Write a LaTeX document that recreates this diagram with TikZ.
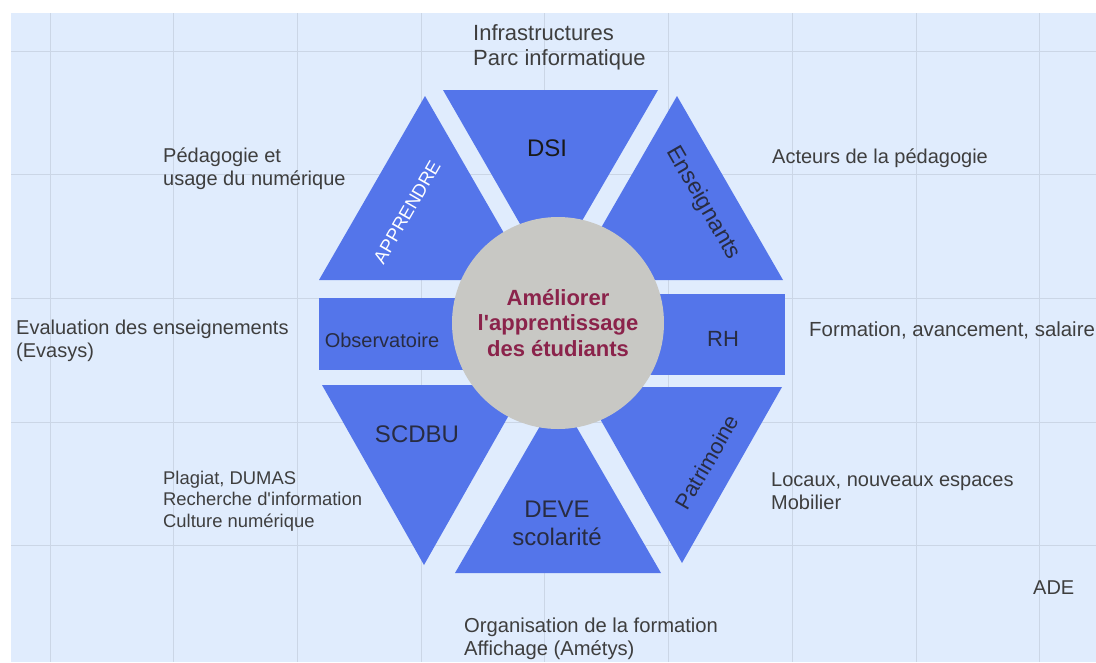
\documentclass[tikz,border=0pt]{standalone}
\usepackage{fontspec}
\setmainfont{Liberation Sans}
\usetikzlibrary{calc}

\definecolor{bgblue}{RGB}{224,236,253}
\definecolor{gridline}{RGB}{203,214,230}
\definecolor{pieceblue}{RGB}{84,117,234}
\definecolor{hubgray}{RGB}{200,200,196}
\definecolor{hubtext}{RGB}{139,35,75}
\definecolor{labeltext}{RGB}{62,62,62}
\definecolor{piecetext}{RGB}{40,44,66}

\begin{document}
\begin{tikzpicture}[x=1pt,y=-1pt,
piece/.style={fill=pieceblue},
outer/.style={anchor=west,align=left,inner sep=0pt,text=labeltext,
  font=\fontsize{20}{23}\selectfont},
inside/.style={align=center,inner sep=0pt,text=piecetext,
  font=\fontsize{24}{28}\selectfont}]

  \useasboundingbox (0,0) rectangle (1096,662);
  \fill[white] (0,0) rectangle (1096,662);
  \fill[bgblue] (11,13) rectangle (1096,662);

  % grid
  \draw[gridline,line width=0.8pt]
    (50,13) -- (50,662) (173.7,13) -- (173.7,662) (297.4,13) -- (297.4,662)
    (421.1,13) -- (421.1,662) (544.8,13) -- (544.8,662) (668.5,13) -- (668.5,662)
    (792.2,13) -- (792.2,662) (915.9,13) -- (915.9,662) (1039.6,13) -- (1039.6,662);
  \draw[gridline,line width=0.8pt]
    (11,51) -- (1096,51) (11,174.7) -- (1096,174.7) (11,298.4) -- (1096,298.4)
    (11,422.1) -- (1096,422.1) (11,545.8) -- (1096,545.8);

  % top row
  \coordinate (apA) at (425,96);
  \coordinate (apB) at (319,280);
  \coordinate (apC) at (531,280);
  \coordinate (dsA) at (443,90);
  \coordinate (dsB) at (658,90);
  \coordinate (dsC) at (550,276);
  \coordinate (enA) at (677,96);
  \coordinate (enB) at (571,280);
  \coordinate (enC) at (783,280);
  % bottom row
  \coordinate (scA) at (322,385);
  \coordinate (scB) at (526,385);
  \coordinate (scC) at (424,565);
  \coordinate (deA) at (558,395);
  \coordinate (deB) at (455,573);
  \coordinate (deC) at (661,573);
  \coordinate (paA) at (582,387);
  \coordinate (paB) at (782,387);
  \coordinate (paC) at (682,563);

  \fill[piece] (apA) -- (apB) -- (apC) -- cycle;
  \fill[piece] (dsA) -- (dsB) -- (dsC) -- cycle;
  \fill[piece] (enA) -- (enB) -- (enC) -- cycle;
  \fill[piece] (319,298) rectangle (520,370);
  \fill[piece] (600,294) rectangle (785,375);
  \fill[piece] (scA) -- (scB) -- (scC) -- cycle;
  \fill[piece] (deA) -- (deB) -- (deC) -- cycle;
  \fill[piece] (paA) -- (paB) -- (paC) -- cycle;

  % centre
  \node[circle,fill=hubgray,minimum size=212pt,inner sep=0pt,align=center,
    text=hubtext,font=\bfseries\fontsize{22}{25.5}\selectfont] (hub) at (558,323)
    {Améliorer\\l\textquotesingle apprentissage\\des étudiants};

  % pieces
  \node[inside,text=black!90] (dsi) at (547,148) {DSI};
  \node[inside,text=white,rotate=60,font=\fontsize{18.5}{22}\selectfont]
    (apprendre) at (407,212) {APPRENDRE};
  \node[inside,rotate=-60,font=\fontsize{23}{26}\selectfont]
    (enseignants) at (703,203) {Enseignants};
  \node[inside,font=\fontsize{20}{23}\selectfont] (observatoire) at (382,340) {Observatoire};
  \node[inside,font=\fontsize{22}{25}\selectfont] (rh) at (723,339) {RH};
  \node[inside] (scdbu) at (417,434) {SCDBU};
  \node[inside] (deve) at (557,523) {DEVE\\scolarité};
  \node[inside,rotate=60,font=\fontsize{22}{25}\selectfont]
    (patrimoine) at (707,462) {Patrimoine};

  % outer labels
  \node[outer,font=\fontsize{22}{25}\selectfont] (infra) at (473,47)
    {Infrastructures\\Parc informatique};
  \node[outer] (peda) at (163,169) {Pédagogie et\\usage du numérique};
  \node[outer] (acteurs) at (772,158) {Acteurs de la pédagogie};
  \node[outer] (evaluation) at (16,341) {Evaluation des enseignements\\(Evasys)};
  \node[outer,font=\fontsize{20.4}{23}\selectfont] (formation) at (809,330)
    {Formation, avancement, salaire};
  \node[outer,font=\fontsize{18.4}{21.6}\selectfont] (plagiat) at (163,501)
    {Plagiat, DUMAS\\Recherche d\textquotesingle information\\Culture numérique};
  \node[outer] (locaux) at (771,491) {Locaux, nouveaux espaces\\Mobilier};
  \node[outer] (ade) at (1033,588) {ADE};
  \node[outer,font=\fontsize{20.2}{23}\selectfont] (organisation) at (464,639)
    {Organisation de la formation\\Affichage (Amétys)};
\end{tikzpicture}
\end{document}
